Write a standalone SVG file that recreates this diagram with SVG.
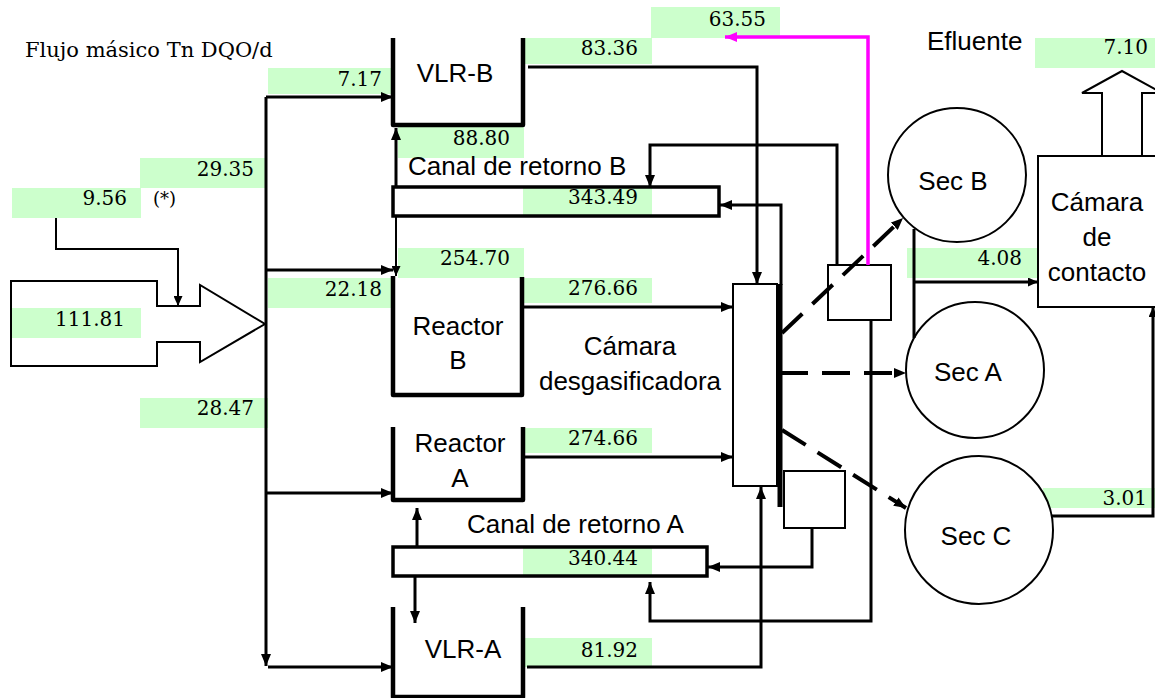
<svg xmlns="http://www.w3.org/2000/svg" width="1155" height="698" viewBox="0 0 1155 698">
<style>
.num{font-family:"DejaVu Serif","Liberation Serif",serif;font-size:20px;fill:#000;text-anchor:end}
.lbl{font-family:"Liberation Sans",Arial,sans-serif;font-size:26px;fill:#000}
.mid{text-anchor:middle}
.g{fill:#ccffcc;stroke:none}
.wall{fill:none;stroke:#000;stroke-width:4.5;stroke-linejoin:round}
.box{fill:#fff;stroke:#000;stroke-width:2}
.canal{fill:none;stroke:#000;stroke-width:3.5}
.ln{fill:none;stroke:#000;stroke-width:3}
.thin{fill:none;stroke:#000;stroke-width:2}
.dash{fill:none;stroke:#000;stroke-width:4;stroke-dasharray:28 14}
</style>
<defs>
<marker id="ah" markerUnits="userSpaceOnUse" markerWidth="12" markerHeight="10" refX="12" refY="5" orient="auto"><path d="M0,0 L12,5 L0,10 z" fill="#000"/></marker>
<marker id="ahs" markerUnits="userSpaceOnUse" markerWidth="10" markerHeight="9" refX="10" refY="4.5" orient="auto"><path d="M0,0 L10,4.5 L0,9 z" fill="#000"/></marker>
<marker id="ahm" markerUnits="userSpaceOnUse" markerWidth="12" markerHeight="10" refX="12" refY="5" orient="auto"><path d="M0,0 L12,5 L0,10 z" fill="#ff00ff"/></marker>
</defs>
<rect width="1155" height="698" fill="#fff"/>

<g id="values">
<rect class="g" x="268" y="68" width="124" height="26"/>
<rect class="g" x="140" y="158" width="127" height="30"/>
<rect class="g" x="12" y="188" width="129" height="30"/>
<rect class="g" x="12" y="308" width="129" height="30"/>
<rect class="g" x="140" y="398" width="128" height="30"/>
<rect class="g" x="268" y="278" width="124" height="30"/>
<rect class="g" x="651" y="7" width="129" height="31"/>
<rect class="g" x="524" y="38" width="128" height="26"/>
<rect class="g" x="398" y="127" width="126" height="31"/>
<rect class="g" x="523" y="187" width="129" height="28"/>
<rect class="g" x="398" y="248" width="126" height="30"/>
<rect class="g" x="524" y="278" width="128" height="25"/>
<rect class="g" x="524" y="428" width="128" height="25"/>
<rect class="g" x="523" y="547" width="129" height="29"/>
<rect class="g" x="525" y="638" width="127" height="29"/>
<rect class="g" x="907" y="248" width="130" height="30"/>
<rect class="g" x="1035" y="38" width="120" height="30"/>
<rect class="g" x="1043" y="488" width="112" height="20"/>
<text class="num" x="382" y="86">7.17</text>
<text class="num" x="254" y="176">29.35</text>
<text class="num" x="127" y="205">9.56</text>
<text class="num" x="125" y="326">111.81</text>
<text class="num" x="254" y="415">28.47</text>
<text class="num" x="382" y="296">22.18</text>
<text class="num" x="766" y="26">63.55</text>
<text class="num" x="638" y="55">83.36</text>
<text class="num" x="510" y="145">88.80</text>
<text class="num" x="638" y="204">343.49</text>
<text class="num" x="510" y="265">254.70</text>
<text class="num" x="638" y="295">276.66</text>
<text class="num" x="638" y="445">274.66</text>
<text class="num" x="638" y="565">340.44</text>
<text class="num" x="638" y="657">81.92</text>
<text class="num" x="1022" y="265">4.08</text>
<text class="num" x="1148" y="54">7.10</text>
<text class="num" x="1147" y="505">3.01</text>
</g>

<text x="25" y="57" style="font-family:'DejaVu Serif','Liberation Serif',serif;font-size:21px">Flujo másico Tn DQO/d</text>
<text x="153" y="205" style="font-family:'DejaVu Serif','Liberation Serif',serif;font-size:18px">(*)</text>

<g id="influent">
<polygon points="11,281 157,281 157,306 200,306 200,285 265,324 200,362 200,342 157,342 157,366 11,366" fill="none" stroke="#000" stroke-width="2"/>
</g>

<g id="vlr-b">
<path class="wall" d="M393,38 V125 H523 V38"/>
<text class="lbl mid" x="455" y="82">VLR-B</text>
</g>
<g id="canal-b">
<rect class="canal" x="393" y="187" width="326" height="29"/>
<text class="lbl" x="408" y="175">Canal de retorno B</text>
</g>
<g id="reactor-b">
<path class="wall" d="M393,276 V395 H522 V277"/>
<text class="lbl mid" x="458" y="335">Reactor</text>
<text class="lbl mid" x="458" y="369">B</text>
</g>
<g id="reactor-a">
<path class="wall" d="M393,427 V500 H523 V427"/>
<text class="lbl mid" x="460" y="452">Reactor</text>
<text class="lbl mid" x="460" y="487">A</text>
</g>
<g id="canal-a">
<rect class="canal" x="393" y="547" width="314" height="29"/>
<text class="lbl" x="467" y="533">Canal de retorno A</text>
</g>
<g id="vlr-a">
<path class="wall" d="M393,607 V697 H523 V607"/>
<text class="lbl mid" x="463" y="658">VLR-A</text>
</g>
<g id="desgasificadora">
<rect class="box" x="733" y="284" width="44" height="202"/>
<text class="lbl mid" x="630" y="355">Cámara</text>
<text class="lbl mid" x="630" y="390">desgasificadora</text>
</g>
<g id="caja-b"><rect class="box" x="828" y="265" width="63" height="55"/></g>
<g id="caja-a"><rect class="box" x="784" y="471" width="61" height="57"/></g>
<g id="sec-b">
<ellipse cx="957" cy="175" rx="69" ry="67" fill="#fff" stroke="#000" stroke-width="2"/>
<text class="lbl mid" x="953" y="190">Sec B</text>
</g>
<g id="sec-a">
<ellipse cx="975" cy="370" rx="69" ry="68" fill="#fff" stroke="#000" stroke-width="2"/>
<text class="lbl mid" x="968" y="381">Sec A</text>
</g>
<g id="sec-c">
<ellipse cx="979" cy="530" rx="74" ry="74" fill="#fff" stroke="#000" stroke-width="2"/>
<text class="lbl mid" x="976" y="545">Sec C</text>
</g>
<g id="camara-contacto">
<rect class="box" x="1038" y="156" width="122" height="151"/>
<text class="lbl mid" x="1097" y="211">Cámara</text>
<text class="lbl mid" x="1097" y="246">de</text>
<text class="lbl mid" x="1097" y="281">contacto</text>
</g>
<g id="efluente">
<polygon points="1102,156 1102,93 1082,93 1122,71 1162,93 1142,93 1142,156" fill="#fff" stroke="#000" stroke-width="2"/>
<text class="lbl" x="927" y="50">Efluente</text>
</g>

<g id="connectors">
<path class="thin" d="M56,218 V249 H178 V306" marker-end="url(#ahs)"/>
<path class="ln" d="M266,97 V666" marker-end="url(#ah)"/>
<path class="ln" d="M266,97 H393" marker-end="url(#ah)"/>
<path class="ln" d="M266,270 H393" marker-end="url(#ah)"/>
<path class="ln" d="M266,493 H393" marker-end="url(#ah)"/>
<path class="ln" d="M268,667 H393" marker-end="url(#ah)"/>
<path class="ln" d="M396,187 V128" marker-end="url(#ah)"/>
<path class="thin" d="M396,216 V276" marker-end="url(#ahs)"/>
<path class="ln" d="M528,67 H757 V284" marker-end="url(#ah)"/>
<path class="ln" d="M524,307 H733" marker-end="url(#ah)"/>
<path class="ln" d="M524,457 H733" marker-end="url(#ah)"/>
<path class="ln" d="M527,667 H761 V487" marker-end="url(#ah)"/>
<path class="ln" d="M417,547 V508" marker-end="url(#ah)"/>
<path class="ln" d="M415,576 V623" marker-end="url(#ah)"/>
<path class="ln" d="M837,265 V145 H650 V187" marker-end="url(#ah)"/>
<path class="ln" d="M781,285 V205 H720" marker-end="url(#ah)"/>
<path fill="none" stroke="#000" stroke-width="5" d="M780,284 V507"/>
<path class="ln" d="M871,320 V621 H650 V582" marker-end="url(#ah)"/>
<path class="ln" d="M812,528 V567 H708" marker-end="url(#ah)"/>
<path fill="none" stroke="#ff00ff" stroke-width="3.5" d="M868,265 V37 H725" marker-end="url(#ahm)"/>
<path class="dash" d="M782,333 L903,218" marker-end="url(#ah)"/>
<path class="dash" d="M780,373 H906" marker-end="url(#ah)"/>
<path class="dash" d="M782,430 L906,508" marker-end="url(#ah)"/>
<path class="ln" d="M914,229 V338"/>
<path class="ln" d="M914,282 H1038" marker-end="url(#ahs)"/>
<path class="ln" d="M1051,516 H1153 V307" marker-end="url(#ahs)"/>
</g>
</svg>
